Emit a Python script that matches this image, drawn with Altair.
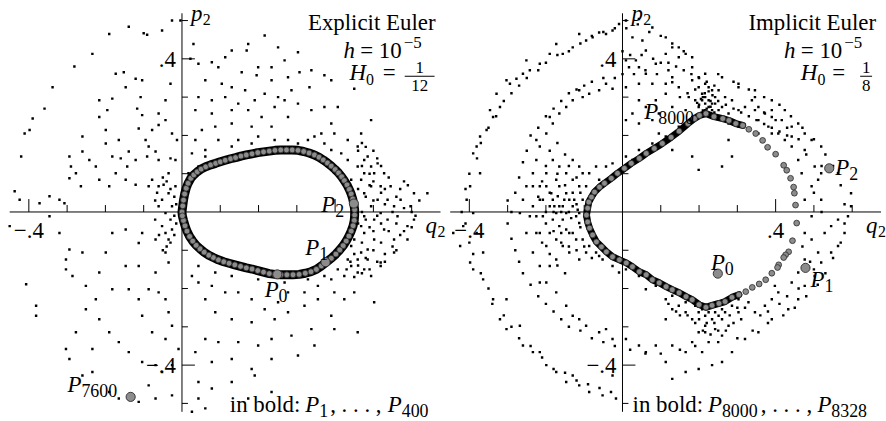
import altair as alt
import pandas as pd

W, H = 443, 421
Q_DOMAIN = [-0.4753, 0.6753]
P_DOMAIN = [-0.5429, 0.5506]
SERIF = "'Liberation Serif', 'Times New Roman', 'DejaVu Serif', serif"

# ---------------- axes ----------------
AXIS_Q_SPAN = [-0.45, 0.70]
AXIS_P_SPAN = [-0.522, 0.519]
X_MINOR = [-0.3, -0.2, -0.1, 0.1, 0.2, 0.3, 0.5, 0.6]
X_MAJOR = [-0.4, 0.4]
Y_MINOR = [-0.5, -0.3, -0.2, -0.1, 0.1, 0.2, 0.3, 0.5]
Y_MAJOR = [-0.4, 0.4]
LEFT_X_TICK_LABELS = [(-0.4, "\u2212.4")]
RIGHT_X_TICK_LABELS = [(-0.4, "\u2212.4"), (0.4, ".4")]
Y_TICK_LABELS = [(-0.4, "\u2212.4"), (0.4, ".4")]

# ---------------- left panel (explicit Euler) ----------------
LEFT_LOOP = [
    (.000, .000), (.002, .016), (.004, .031), (.007, .047), (.011, .062), (.016, .075), (.023, .088),
    (.031, .097), (.040, .105), (.050, .112), (.062, .118), (.075, .123), (.088, .127), (.100, .131),
    (.113, .135), (.127, .139), (.140, .142), (.154, .146), (.168, .149), (.183, .152), (.198, .155),
    (.213, .157), (.228, .159), (.243, .161), (.258, .162), (.273, .162), (.288, .162), (.303, .161),
    (.318, .158), (.332, .154), (.346, .149), (.358, .143), (.369, .136), (.380, .128), (.390, .120),
    (.400, .111), (.409, .102), (.417, .092), (.424, .082), (.431, .071), (.437, .059), (.442, .047),
    (.446, .034), (.449, .020), (.451, .006), (.451, -.008), (.450, -.022), (.447, -.036), (.442, -.050),
    (.436, -.063), (.429, -.076), (.421, -.088), (.412, -.099), (.402, -.110), (.390, -.121), (.377, -.131),
    (.364, -.141), (.351, -.150), (.337, -.156), (.322, -.160), (.306, -.163), (.290, -.164), (.274, -.164),
    (.258, -.164), (.243, -.163), (.228, -.161), (.213, -.157), (.198, -.153), (.183, -.149), (.168, -.146),
    (.153, -.142), (.138, -.138), (.123, -.134), (.109, -.130), (.095, -.125), (.082, -.119), (.070, -.113),
    (.058, -.105), (.047, -.096), (.037, -.087), (.028, -.076), (.020, -.064), (.013, -.050), (.008, -.036),
    (.004, -.022), (.001, -.010),
]
LEFT_MARKED = [(.249, -.163), (.375, -.131), (.449, .022), (-.134, -.483)]
LEFT_LABELS = [("0", .216, -.221), ("1", .322, -.112), ("2", .364, 0.0), ("7600", -.299, -.47)]

LEFT_DOTS = [
    (-.19, .465), (-.139, .484), (-.1, .467), (-.091, .463), (-.052, .474), (-.026, .5), (-.004, .5),
    (-.234, .413), (-.281, .38), (-.338, .326), (-.359, .27), (-.39, .244), (-.398, .214), (-.411, .205),
    (-.42, .145), (-.437, .054), (-.32, .032), (-.346, .041), (-.294, .145), (-.29, .119), (-.294, .088),
    (-.277, .101), (-.26, .158), (-.26, .197), (-.216, .292), (-.216, .248), (-.199, .214), (-.195, .266),
    (-.182, .296), (-.173, .361), (-.152, .365), (-.147, .326), (-.121, .348), (-.104, .344), (-.108, .3),
    (-.117, .27), (-.104, .253), (-.113, .218), (-.095, .188), (-.087, .171), (-.069, .158), (-.061, .136),
    (-.078, .084), (-.087, .067), (-.121, .071), (-.147, .084), (-.19, .067), (-.216, .084), (-.225, .119),
    (-.182, .145), (-.16, .14), (-.139, .158), (-.165, .188), (-.199, .179), (-.242, .136), (-.264, .067),
    (-.307, .023), (-.372, .023), (-.424, .032), (-.03, .335), (-.043, .292), (-.061, .257), (-.043, .24),
    (-.026, .205), (-.013, .188), (-.061, .227), (-.078, .214), (-.03, .14), (-.035, .101), (-.048, .071),
    (-.017, .136), (-.091, .145), (-.121, .136), (-.143, .119), (-.173, .101),
    (.03, .439), (.078, .391), (.113, .404), (.13, .422), (.169, .422), (.173, .439), (.216, .461),
    (.251, .43), (.303, .417), (.268, .396), (.234, .378), (.199, .378), (.156, .365), (.095, .378),
    (.043, .387), (.022, .4), (.061, .344), (.104, .335), (.13, .326), (.165, .318), (.195, .357),
    (.234, .344), (.277, .352), (.307, .365), (.338, .37), (.372, .357), (.39, .344), (.45, .322),
    (.333, .326), (.286, .318), (.251, .3), (.216, .309), (.19, .292), (.147, .283), (.113, .3),
    (.078, .292), (.043, .3), (.035, .266), (.078, .257), (.13, .266), (.173, .266), (.208, .248),
    (.242, .274), (.268, .292), (.303, .283), (.338, .266), (.372, .274), (.407, .274), (.277, .248),
    (.234, .223), (.182, .223), (.13, .231), (.087, .223), (.052, .214), (.035, .188), (.095, .188),
    (.147, .188), (.199, .197), (.242, .188), (.277, .188), (.329, .188), (.364, .205), (.398, .205),
    (.433, .188), (.39, .231), (.494, .24), (.468, .205), (.061, .162), (.026, .153), (.043, .119),
    (.017, .101),
    (.459, .171), (.485, .145), (.511, .127), (.528, .101), (.545, .067), (.58, .08), (.606, .049),
    (.641, .049), (.597, .015), (.571, .032), (.554, .015), (.476, .136), (.494, .119), (.502, .101),
    (.476, .101), (.459, .119), (.519, .067), (.494, .067), (.476, .049), (.511, .032), (.537, .032),
    (.494, .015), (.519, -.003), (.476, -.011), (.502, -.02), (.537, -.02), (.563, -.011), (.589, -.037),
    (.476, -.055), (.502, -.072), (.528, -.046), (.554, -.072), (.485, -.098), (.468, -.106), (.459, -.124),
    (.485, -.124), (.442, -.141), (.476, -.15), (.519, -.132), (.554, -.106), (.442, -.089), (.45, -.072),
    (.468, -.037), (.442, .084), (.468, .084), (.45, .032), (.606, -.02), (.589, -.072),
    (.46, .16), (.47, .12), (.49, .10), (.50, .08), (.52, .05), (.53, .02), (.55, .00), (.56, -.03),
    (.54, -.05), (.52, -.08), (.50, -.10), (.48, -.12), (.46, -.14), (.47, -.08), (.49, -.04), (.51, -.01),
    (.53, .06), (.51, .14), (.48, .17), (.57, .06), (.58, -.05), (.60, -.04), (.62, .03), (.50, .03),
    (.46, .06), (.47, .00), (.46, -.03), (.45, -.11), (.44, -.13), (.43, -.15),
    (.47, .18), (.50, .16), (.52, .12), (.54, .09), (.56, .04), (.58, .01), (.60, .0), (.59, .07),
    (.61, -.01), (.55, -.09), (.53, -.11), (.51, -.13), (.49, -.15), (.47, -.16), (.45, -.17), (.48, -.02),
    (.50, -.05), (.52, -.03), (.48, .04), (.49, .07), (.53, -.13), (.56, -.10), (.57, -.06),
    (.519, -.141), (.494, -.167), (.459, -.158), (.424, -.167), (.39, -.176), (.355, -.193), (.32, -.21),
    (.277, -.21), (.251, -.236), (.216, -.254), (.182, -.228), (.147, -.21), (.113, -.21), (.078, -.193),
    (.043, -.184), (.026, -.167), (.061, -.228), (.087, -.262), (.13, -.28), (.182, -.288), (.242, -.28),
    (.277, -.262), (.32, -.245), (.355, -.228), (.398, -.21), (.424, -.228), (.45, -.21), (.502, -.236),
    (.39, -.271), (.338, -.306), (.286, -.323), (.234, -.332), (.199, -.349), (.147, -.34), (.095, -.34),
    (.061, -.332), (.035, -.366), (.078, -.392), (.13, -.384), (.182, -.41), (.234, -.384), (.303, -.375),
    (.346, -.349), (.459, -.314), (.398, -.306), (.043, -.444), (.078, -.461), (.13, -.444), (.19, -.427),
    (.173, -.487), (.234, -.47), (.061, -.513), (.026, -.522), (.043, -.487),
    (-.45, -.037), (-.407, -.189), (-.381, -.245), (-.381, -.271), (-.303, -.124), (-.303, -.15),
    (-.294, -.098), (-.26, -.106), (-.286, -.167), (-.251, -.193), (-.216, -.158), (-.199, -.106),
    (-.182, -.055), (-.147, -.046), (-.113, -.081), (-.104, -.055), (-.069, -.072), (-.043, -.106),
    (-.035, -.132), (-.069, -.158), (-.113, -.141), (-.147, -.141), (-.182, -.202), (-.225, -.228),
    (-.251, -.254), (-.216, -.28), (-.19, -.314), (-.165, -.34), (-.139, -.366), (-.104, -.392),
    (-.069, -.4), (-.052, -.418), (-.026, -.4), (-.009, -.358), (-.043, -.332), (-.078, -.314),
    (-.104, -.271), (-.113, -.228), (-.139, -.202), (-.087, -.202), (-.061, -.21), (-.043, -.228),
    (-.035, -.262), (-.026, -.297), (-.303, -.358), (-.294, -.384), (-.26, -.427), (-.234, -.418),
    (-.19, -.47), (-.165, -.487), (-.113, -.496), (-.087, -.453), (-.069, -.487), (-.026, -.479),
    (-.277, -.314), (-.234, -.358), (-.346, -.011), (-.32, -.055),
    (-.061, .067), (-.052, .032), (-.043, -.003), (-.052, -.037), (-.043, -.055), (-.035, .049),
    (-.026, .015), (-.03, -.02), (-.026, -.046), (-.017, .067), (-.035, -.072), (-.061, .015),
    (-.05, .09), (-.04, .08), (-.03, .06), (-.02, .04), (-.015, .02), (-.02, -.01), (-.015, -.03),
    (-.02, -.06), (-.03, -.08), (-.04, -.09), (-.05, -.1), (-.06, -.06), (-.07, -.02), (-.07, .03),
    (-.065, .05),
    (.061, .145), (.13, .171), (.182, .179), (.303, .179), (.346, .197), (.372, .179), (.416, .153),
    (.433, .136), (.39, .162),
    (.043, -.141), (.087, -.158), (.13, -.167), (.199, -.176), (.268, -.184), (.329, -.176), (.372, -.167),
    (.407, -.15), (.433, -.124),
]

# ---------------- right panel (implicit Euler) ----------------
RIGHT_ARC_UPPER = [
    (.218, .257), (.239, .249), (.262, .244), (.278, .239), (.296, .231), (.314, .226), (.33, .216),
    (.348, .205), (.366, .187), (.379, .169), (.4, .151), (.421, .122), (.429, .109), (.439, .088),
    (.447, .065), (.449, .049), (.452, .018), (.455, -.029), (.444, -.075), (.434, -.104), (.426, -.112),
    (.421, -.119), (.408, -.138), (.405, -.145),
]
RIGHT_ARC_LOWER = [
    (.39, -.16), (.374, -.177), (.357, -.188), (.339, -.197), (.322, -.208), (.304, -.216), (.286, -.223),
    (.268, -.234), (.252, -.239), (.234, -.244), (.218, -.249),
]
RIGHT_DIAG = [
    (.2, -.242), (.182, -.229), (.166, -.221), (.148, -.211), (.13, -.203), (.114, -.195), (.096, -.185),
    (.078, -.177), (.062, -.164), (.044, -.156), (.026, -.143), (.01, -.133), (-.008, -.125), (-.026, -.117),
    (-.042, -.104), (-.055, -.091), (-.068, -.078), (-.078, -.06), (-.086, -.042), (-.091, -.026),
    (-.094, -.008), (-.091, .01), (-.088, .026), (-.081, .039), (-.073, .052), (-.06, .065), (-.047, .075),
    (-.029, .088), (-.013, .101), (.005, .114), (.023, .127), (.044, .14), (.062, .153), (.083, .166),
    (.104, .179), (.127, .195), (.148, .211), (.171, .231), (.188, .244), (.201, .252),
]
RIGHT_MARKED = [(.249, -.161), (.478, -.146), (.54, .114)]
RIGHT_LABELS = [("8000", .057, .244), ("0", .231, -.151), ("1", .491, -.195), ("2", .556, .096)]

RIGHT_DOTS = [
    (-.407, .032), (-.398, .067), (-.39, .153), (-.381, .171), (-.372, .197), (-.355, .214), (-.346, .266),
    (-.338, .248), (-.32, .274), (-.303, .344), (-.294, .335), (-.277, .348), (-.26, .361), (-.242, .37),
    (-.216, .387), (-.173, .439), (-.156, .413), (-.113, .465), (-.095, .448), (-.061, .469), (-.043, .465),
    (-.009, .491), (.009, .5), (.043, .504), (.078, .482), (.052, .448), (.061, .422), (.035, .396),
    (.026, .456), (-.026, .474), (-.398, -.132), (-.39, -.15), (-.364, -.176), (-.338, -.228), (-.32, -.28),
    (-.303, -.306), (-.26, -.349), (-.234, -.366), (-.199, -.4), (-.173, -.418), (-.147, -.444),
    (-.113, -.453), (-.087, -.47), (-.052, -.479), (-.026, -.427), (-.017, -.487), (-.442, -.055),
    (-.424, -.089), (-.416, -.037), (-.381, -.055), (-.364, -.106), (-.303, -.228), (-.268, -.297),
    (-.216, -.366), (-.13, -.427), (-.372, .101), (-.39, -.003), (-.329, .309), (-.251, .396), (-.19, .413),
    (-.13, .43), (-.078, .456), (.113, .456), (.147, .43), (.182, .404),
    (-.40, .10), (-.41, .06), (-.42, .0), (-.41, -.03), (-.40, -.08), (-.39, -.11), (-.37, -.16),
    (-.35, -.2), (-.34, -.24), (-.31, -.27), (-.29, -.3), (-.27, -.33), (-.24, -.35), (-.21, -.38),
    (-.18, -.41), (-.15, -.42), (-.12, -.44), (-.09, -.45), (-.06, -.46), (-.03, -.47), (-.38, .14),
    (-.37, .18), (-.35, .22), (-.33, .25), (-.31, .29), (-.29, .31), (-.27, .33), (-.25, .35), (-.22, .37),
    (-.2, .39), (-.17, .41), (-.14, .42), (-.11, .44), (-.08, .46), (-.05, .47), (-.02, .48), (.01, .48),
    (.04, .49), (.07, .47), (.1, .46), (.13, .44), (.16, .42),
    (-.26, .032), (-.251, .067), (-.234, .101), (-.225, .136), (-.216, .171), (-.199, .205), (-.182, .231),
    (-.165, .257), (-.147, .274), (-.13, .292), (-.104, .3), (-.087, .309), (-.061, .318), (-.026, .322),
    (.009, .326), (.043, .335), (.078, .335), (.113, .335), (.13, .339), (-.251, -.055), (-.234, -.106),
    (-.216, -.141), (-.199, -.184), (-.173, -.21), (-.147, -.245), (-.13, -.271), (-.095, -.297),
    (-.061, -.314), (-.026, -.332), (.009, -.332), (.043, -.349), (.087, -.349), (.13, -.349), (.182, -.34),
    (.216, -.314), (-.242, -.011), (-.268, -.003), (-.225, .188), (-.19, .248), (-.113, .318), (-.043, .335),
    (-.216, -.184), (-.113, -.28), (-.043, -.306), (.061, -.366), (.113, -.392), (.165, -.366),
    (-.28, .05), (-.27, .09), (-.26, .13), (-.25, .16), (-.24, .2), (-.22, .22), (-.2, .25), (-.18, .27),
    (-.16, .29), (-.14, .31), (-.12, .32), (-.1, .33), (-.08, .34), (-.05, .35), (-.02, .35), (.0, .36),
    (.03, .36), (.06, .37), (.09, .36), (.12, .37), (-.29, .0), (-.3, .03), (-.3, -.03), (-.29, -.07),
    (-.28, -.1), (-.27, -.13), (-.26, -.16), (-.24, -.19), (-.22, -.22), (-.2, -.24), (-.18, -.26),
    (-.16, -.28), (-.14, -.3), (-.11, -.31), (-.08, -.33), (-.05, -.34), (-.02, -.35), (.02, -.36),
    (.06, -.37), (.1, -.37), (.15, -.36), (.19, -.35), (.25, -.34), (.3, -.33), (.34, -.31), (.38, -.29),
    (.42, -.27), (.45, -.25), (.48, -.22), (.51, -.19), (.53, -.16), (.55, -.12), (.57, -.08), (.58, -.03),
    (.58, .02), (.57, .07), (.55, .12), (.53, .15), (.5, .19), (.47, .22), (.44, .25), (.41, .28),
    (.37, .3), (.33, .32), (.29, .34), (.25, .36),
    (.476, .205), (.519, .171), (.545, .119), (.563, .101), (.597, .049), (.597, .015), (.589, -.011),
    (.58, -.055), (.563, -.089), (.545, -.106), (.519, -.132), (.502, -.167), (.476, -.193), (.459, -.228),
    (.433, -.254), (.39, -.28), (.355, -.314), (.32, -.332), (.286, -.366), (.26, -.392), (.234, -.4),
    (.199, -.41), (.165, -.418), (.13, -.436), (.39, .292), (.424, .266), (.459, .231), (.494, .188),
    (.346, .318), (.303, .335), (.26, .352), (.216, .361),
    (.476, -.055), (.494, -.072), (.511, -.106), (.476, -.124), (.459, -.158), (.442, -.184), (.407, -.21),
    (.39, -.228), (.372, -.245), (.346, -.262), (.398, -.193), (.528, -.055), (.545, -.037), (.563, -.02),
    (.494, -.011), (.519, .032), (.476, .032), (.494, .067), (.511, .084), (.468, .101), (.459, .136),
    (.442, .171), (.424, .188), (.407, .205), (.381, .223), (.355, .24), (.39, .248), (.442, .223),
    (.47, -.09), (.49, -.13), (.5, -.15), (.46, -.2), (.43, -.22), (.41, -.24), (.38, -.26), (.36, -.27),
    (.52, .0), (.5, .05), (.52, .12), (.48, .15), (.46, .19), (.43, .22), (.4, .24), (.37, .26),
    (.009, .396), (.017, .378), (.043, .378), (.061, .361), (.087, .387), (.113, .413), (.13, .43),
    (.147, .404), (.165, .413), (.182, .378), (.199, .352), (.216, .335), (.234, .318), (.208, .309),
    (.225, .292), (.242, .283), (.19, .292), (.173, .3), (.147, .326), (.13, .352), (.113, .309),
    (.087, .292), (.061, .274), (.043, .292), (.026, .257), (.009, .24), (.043, .231), (.078, .24),
    (.095, .257), (.13, .274), (.165, .266), (.182, .248), (.268, .3), (.286, .292), (.303, .266),
    (.32, .274), (.338, .292), (.355, .274), (.372, .257), (.26, .274), (.277, .257), (.303, .223),
    (.208, .292), (.216, .3), (.225, .274), (.234, .266), (.199, .274), (.216, .266), (.242, .3),
    (.251, .266), (.225, .257), (.208, .257), (.242, .248), (.26, .24), (.277, .231), (.234, .283),
    (.216, .283), (.199, .326), (.225, .326), (.251, .318), (.182, .344),
    (.0, .42), (.02, .41), (.05, .41), (.08, .40), (.1, .39), (.12, .39), (.14, .38), (.16, .37), (.18, .36),
    (.2, .35), (.22, .34), (.24, .33), (.19, .32), (.17, .31), (.15, .3), (.21, .3), (.23, .29), (.25, .29),
    (.27, .28), (.29, .27), (.31, .26), (.33, .25), (.35, .24), (.37, .23), (.39, .22), (.41, .21),
    (.43, .2), (.2, .28), (.22, .27), (.24, .26), (.21, .265), (.23, .275), (.195, .285), (.205, .295),
    (.215, .31), (.225, .315), (.235, .305),
    (-.199, .067), (-.182, .032), (-.173, -.003), (-.165, .015), (-.156, -.02), (-.147, -.046),
    (-.139, .032), (-.13, .015), (-.121, -.011), (-.113, -.029), (-.104, .032), (-.095, .067),
    (-.113, .067), (-.13, .084), (-.147, .101), (-.165, .119), (-.182, .136), (-.199, .101),
    (-.216, .032), (-.208, -.011), (-.19, -.055), (-.173, -.072), (-.156, -.089), (-.139, -.106),
    (-.121, -.072), (-.104, -.072), (-.087, -.089), (-.069, -.106), (-.052, -.124), (-.078, -.055),
    (-.147, .049), (-.165, -.037), (-.182, -.02), (-.216, -.055), (-.199, -.089), (-.13, .136),
    (-.113, .119), (-.087, .101), (-.069, .119), (-.061, .084), (-.216, .067), (-.225, -.011),
    (-.234, .015), (-.165, .067), (-.139, -.055), (-.156, .015), (-.147, -.003), (-.134, -.016),
    (-.126, .032), (-.117, .006), (-.152, .032), (-.169, .041), (-.178, .015), (-.16, -.055),
    (-.13, -.055), (-.113, -.003), (-.1, -.011), (-.19, .015), (-.186, .049), (-.173, .084),
    (-.208, .032), (-.225, -.055), (-.234, .067), (-.104, .101), (-.095, -.106), (-.113, -.124),
    (-.173, -.124), (-.19, -.141),
    (-.22, .04), (-.21, .08), (-.2, .12), (-.19, .16), (-.17, .18), (-.15, .15), (-.14, .12), (-.12, .09),
    (-.11, .05), (-.2, -.03), (-.18, -.05), (-.16, -.08), (-.14, -.09), (-.12, -.1), (-.1, -.09),
    (-.08, -.12), (-.21, -.08), (-.19, -.11), (-.17, -.14), (-.15, -.16), (-.14, .0), (-.16, .0), (-.18, .0),
    (-.2, .0), (-.12, .02), (-.11, -.04), (-.15, .07), (-.17, .1), (-.13, .05), (-.19, .05),
    (.199, -.262), (.216, -.271), (.234, -.28), (.251, -.271), (.268, -.262), (.216, -.297), (.199, -.314),
    (.242, -.306), (.26, -.323), (.277, -.297), (.182, -.28), (.165, -.262), (.286, -.245), (.303, -.262),
    (.234, -.245), (.225, -.34), (.208, -.366), (.216, -.245), (.225, -.262), (.208, -.254), (.242, -.262),
    (.19, -.245), (.26, -.254), (.147, -.245), (.13, -.254), (.113, -.28), (.303, -.228), (.329, -.236),
    (.2, -.28), (.22, -.29), (.24, -.29), (.26, -.28), (.28, -.27), (.3, -.25), (.32, -.25), (.19, -.29),
    (.21, -.31), (.23, -.32), (.25, -.31), (.27, -.31), (.17, -.27), (.15, -.27), (.14, -.26), (.12, -.24),
    (.29, -.29), (.31, -.28),
    (.303, .326), (.346, .3), (.39, .266), (.346, .266), (.416, .24), (.442, .197), (.476, .162),
    (.39, .205), (.355, .205), (.502, .119), (.519, .101),
    (-.043, .119), (-.026, .127), (.009, .145), (.043, .162), (.078, .179), (.113, .197), (.147, .223),
    (.095, .205), (.026, .136), (.043, -.167), (.087, -.193), (.13, -.219), (.165, -.236), (.009, -.15),
    (-.026, -.141), (-.061, -.115), (-.009, -.158), (.061, -.202), (.113, -.228),
    (.13, .162), (.182, .145), (.199, .11), (.26, .119), (.286, .145), (.277, .188),
]

# ---------------- annotation texts ----------------
LEFT_TITLE = "Explicit Euler"
RIGHT_TITLE = "Implicit Euler"
LEFT_FRAC = ("1", "12")
RIGHT_FRAC = ("1", "8")
LEFT_BOLD = ("1", "400")
RIGHT_BOLD = ("8000", "8328")

FS = 23      # main font size
FSUB = 18    # sub/superscript font size


def df(points):
    return pd.DataFrame(points, columns=["q", "p"])


def enc_q():
    return alt.X("q:Q", scale=alt.Scale(domain=Q_DOMAIN, nice=False, zero=False), axis=None)


def enc_p():
    return alt.Y("p:Q", scale=alt.Scale(domain=P_DOMAIN, nice=False, zero=False), axis=None)


def pix_text(rows, italic=False, align="left"):
    d = pd.DataFrame(rows, columns=["t", "x", "y", "s"])
    kw = dict(font=SERIF, align=align, baseline="alphabetic", color="black")
    if italic:
        kw["fontStyle"] = "italic"
    return alt.Chart(d).mark_text(**kw).encode(
        x=alt.X("x:Q", scale=None, axis=None),
        y=alt.Y("y:Q", scale=None, axis=None),
        text="t:N",
        size=alt.Size("s:Q", scale=None, legend=None),
    )


def panel(loop_parts, band_pts, closed_band, marked, labels, dots, title, frac, bold, xlabels, layout):
    layers = []
    layers.append(alt.Chart(pd.DataFrame({"q": [AXIS_Q_SPAN[0]], "q2": [AXIS_Q_SPAN[1]], "p": [0.0]}))
                  .mark_rule(color="black", strokeWidth=1, clip=True)
                  .encode(x=enc_q(), x2="q2:Q", y=enc_p()))
    layers.append(alt.Chart(pd.DataFrame({"q": [0.0], "p": [AXIS_P_SPAN[0]], "p2": [AXIS_P_SPAN[1]]}))
                  .mark_rule(color="black", strokeWidth=1, clip=True)
                  .encode(x=enc_q(), y=enc_p(), y2="p2:Q"))
    for vals, path in [(X_MINOR, "M0,0V-7"), (X_MAJOR, "M0,0V-13")]:
        layers.append(alt.Chart(pd.DataFrame({"q": vals, "p": [0.0] * len(vals)}))
                      .mark_point(shape=path, size=4, filled=False, stroke="black", strokeWidth=1, opacity=1)
                      .encode(x=enc_q(), y=enc_p()))
    for vals, path in [(Y_MINOR, "M0,0H6"), (Y_MAJOR, "M0,0H13")]:
        layers.append(alt.Chart(pd.DataFrame({"q": [0.0] * len(vals), "p": vals}))
                      .mark_point(shape=path, size=4, filled=False, stroke="black", strokeWidth=1, opacity=1)
                      .encode(x=enc_q(), y=enc_p()))
    layers.append(alt.Chart(pd.DataFrame({"q": [v for v, _ in xlabels], "p": [0.0] * len(xlabels),
                                          "t": [t for _, t in xlabels]}))
                  .mark_text(font=SERIF, fontSize=FS, align="center", baseline="alphabetic", dy=26, color="black")
                  .encode(x=enc_q(), y=enc_p(), text="t:N"))
    layers.append(alt.Chart(pd.DataFrame({"q": [0.0, 0.0], "p": [v for v, _ in Y_TICK_LABELS],
                                          "t": [t for _, t in Y_TICK_LABELS]}))
                  .mark_text(font=SERIF, fontSize=FS, align="right", baseline="middle", dx=-6, dy=1, color="black")
                  .encode(x=enc_q(), y=enc_p(), text="t:N"))
    layers.append(pix_text([("p", 192, 20, FS), ("q", 428, 233, FS)], italic=True))
    layers.append(pix_text([("2", 204, 24, 16), ("2", 440, 237, 16)]))
    layers.append(alt.Chart(df(dots)).mark_square(size=6, color="black", opacity=1, clip=True)
                  .encode(x=enc_q(), y=enc_p()))
    bd = df(band_pts + ([band_pts[0]] if closed_band else []))
    bd["i"] = range(len(bd))
    layers.append(alt.Chart(bd).mark_line(color="black", strokeWidth=layout["band"], strokeJoin="round",
                                          strokeCap="round", clip=True)
                  .encode(x=enc_q(), y=enc_p(), order="i:Q"))
    circ = df([pt for part in loop_parts for pt in part])
    layers.append(alt.Chart(circ).mark_circle(size=34, color="#8c8c8c", stroke="#2a2a2a", strokeWidth=0.8,
                                              opacity=1)
                  .encode(x=enc_q(), y=enc_p()))
    layers.append(alt.Chart(df(marked)).mark_circle(size=85, color="#8c8c8c", stroke="#2a2a2a",
                                                    strokeWidth=0.9, opacity=1)
                  .encode(x=enc_q(), y=enc_p()))
    ld = pd.DataFrame(labels, columns=["sub", "q", "p"])
    ld["P"] = "P"
    layers.append(alt.Chart(ld).mark_text(font=SERIF, fontStyle="italic", fontSize=FS, align="left",
                                          baseline="alphabetic", color="black")
                  .encode(x=enc_q(), y=enc_p(), text="P:N"))
    layers.append(alt.Chart(ld).mark_text(font=SERIF, fontSize=FSUB, align="left", baseline="alphabetic",
                                          dx=14, dy=5, color="black")
                  .encode(x=enc_q(), y=enc_p(), text="sub:N"))
    L = layout
    layers.append(pix_text([(title, 438, 29, FS), ("= 10", 404, 57, FS), ("=", L["eq"], 79, FS)],
                           align="right"))
    layers.append(pix_text([("\u22125", 406, 47, 17)], align="left"))
    layers.append(pix_text([("h", 357, 57, FS), ("H", L["H"], 79, FS)], italic=True, align="right"))
    layers.append(pix_text([("0", L["H"], 84, 16)], align="left"))
    layers.append(pix_text([(frac[0], L["fc"], 72, 17), (frac[1], L["fc"], 90, 17)], align="center"))
    layers.append(alt.Chart(pd.DataFrame({"a": [L["fc"] - L["fw"]], "b": [L["fc"] + L["fw"]], "y": [75.5]}))
                  .mark_rule(color="black", strokeWidth=1)
                  .encode(x=alt.X("a:Q", scale=None, axis=None), x2="b:Q", y=alt.Y("y:Q", scale=None, axis=None)))
    layers.append(pix_text([("in bold:", L["ib"], 413, FS)], align="right"))
    layers.append(pix_text([(", . . . ,", L["dots"], 413, FS)], align="left"))
    layers.append(pix_text([("P", L["p1"], 413, FS), ("P", L["p2"], 413, FS)], italic=True, align="left"))
    layers.append(pix_text([(bold[0], L["p1"] + 14, 418, FSUB), (bold[1], L["p2"] + 14, 418, FSUB)],
                           align="left"))

    return alt.layer(*layers).properties(width=W, height=H)


left = panel([LEFT_LOOP], LEFT_LOOP, True, LEFT_MARKED, LEFT_LABELS, LEFT_DOTS, LEFT_TITLE, LEFT_FRAC,
             LEFT_BOLD, LEFT_X_TICK_LABELS,
             dict(band=9, eq=398, H=368, fc=422, fw=15, ib=302, dots=332, p1=307, p2=390))
right = panel([RIGHT_ARC_UPPER, RIGHT_ARC_LOWER, RIGHT_DIAG],
              RIGHT_ARC_LOWER[5:] + RIGHT_DIAG + RIGHT_ARC_UPPER[:6], False,
              RIGHT_MARKED, RIGHT_LABELS, RIGHT_DOTS, RIGHT_TITLE, RIGHT_FRAC, RIGHT_BOLD, RIGHT_X_TICK_LABELS,
              dict(band=7, eq=407, H=379, fc=428, fw=6, ib=264, dots=322, p1=269, p2=379))

chart = alt.hconcat(left, right, spacing=0, bounds="flush").properties(
    padding=0, background="white"
).configure_view(strokeWidth=0)

chart.save("out.html", embed_options={"renderer": "svg", "actions": False})
